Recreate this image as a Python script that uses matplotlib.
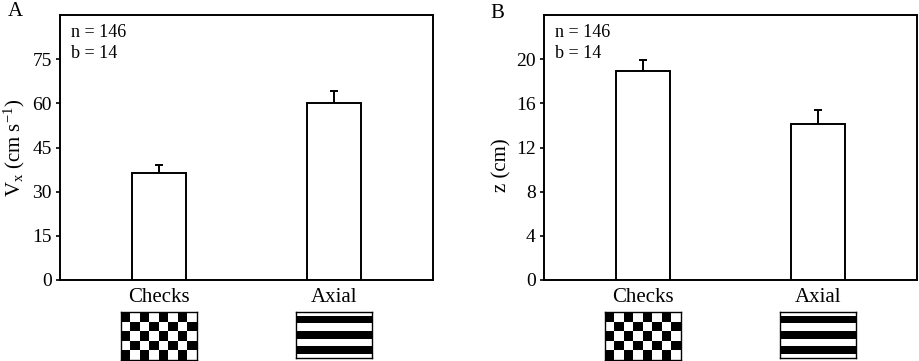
import numpy as np
import matplotlib
matplotlib.use("Agg")
import matplotlib.pyplot as plt

plt.rcParams['font.family'] = ['Liberation Serif', 'DejaVu Serif']
plt.rcParams['mathtext.fontset'] = 'custom'
plt.rcParams['mathtext.rm'] = 'Liberation Serif'
plt.rcParams['mathtext.it'] = 'Liberation Serif:italic'

categories = ["Checks", "Axial"]
vx_means = [36.5, 60.2]
vx_errs = [2.4, 4.0]
z_means = [18.9, 14.1]
z_errs = [1.05, 1.3]
n_text = "n = 146"
b_text = "b = 14"

W, H = 919, 361
fig = plt.figure(figsize=(W / 100, H / 100), dpi=100)

def px_rect(x0, y0, x1, y1):
    return [x0 / W, (H - y1) / H, (x1 - x0) / W, (y1 - y0) / H]

panels = [
    dict(rect=px_rect(60, 15, 433, 280), means=vx_means, errs=vx_errs,
         ylim=(0, 90), yticks=[0, 15, 30, 45, 60, 75],
         ylabel=r"V$_{\mathrm{x}}$ (cm s$^{-1}$)", label_y=0.5,
         letter="A", letter_xy=(8, 12)),
    dict(rect=px_rect(544, 15, 917, 280), means=z_means, errs=z_errs,
         ylim=(0, 24), yticks=[0, 4, 8, 12, 16, 20],
         ylabel="z (cm)", label_y=0.435,
         letter="B", letter_xy=(490, 13)),
]

# stimulus images
checks_img = (np.add.outer(np.arange(5), np.arange(8)) % 2 == 0).astype(float)
axial_rows = [0] * 2 + [1] * 4 + [0] * 4 + [1] * 4 + [0] * 4 + [1] * 4 + [0] * 2
axial_img = np.array(axial_rows, dtype=float)[:, None] * np.ones((1, 8))

xlim = (-0.564, 1.564)
for p in panels:
    ax = fig.add_axes(p["rect"])
    x = np.arange(len(categories))
    ax.bar(x, p["means"], width=0.31, color="white", edgecolor="black",
           linewidth=1.4, zorder=2)
    ax.errorbar(x, p["means"], yerr=[np.zeros(len(x)), p["errs"]], fmt="none",
                ecolor="black", elinewidth=1.4, capsize=3.2, capthick=1.4, zorder=1)
    ax.set_xlim(*xlim)
    ax.set_ylim(*p["ylim"])
    ax.set_yticks(p["yticks"])
    ax.set_xticks([])
    ax.tick_params(axis="y", direction="out", length=3, width=1.2, pad=3,
                   labelsize=14)
    for s in ax.spines.values():
        s.set_linewidth(1.4)
    ax.set_ylabel(p["ylabel"], fontsize=15)
    ax.yaxis.set_label_coords(-0.088, p["label_y"])
    ax.text(0.03, 0.935, n_text, transform=ax.transAxes, fontsize=13,
            va="center", ha="left")
    ax.text(0.03, 0.853, b_text, transform=ax.transAxes, fontsize=13,
            va="center", ha="left")
    lx, ly = p["letter_xy"]
    fig.text(lx / W, (H - ly) / H, p["letter"], fontsize=15,
             va="center", ha="left")
    # category labels and stimulus pictures
    x0px = p["rect"][0] * W
    wpx = p["rect"][2] * W
    for i, cat in enumerate(categories):
        cx = x0px + (i - xlim[0]) / (xlim[1] - xlim[0]) * wpx
        fig.text(cx / W, (H - 298) / H, cat, fontsize=15, ha="center",
                 va="center")
        iax = fig.add_axes(px_rect(cx - 38, 312, cx + 38, 360 if i == 0 else 358))
        img = checks_img if i == 0 else axial_img
        iax.imshow(img, cmap="gray_r", vmin=0, vmax=1, aspect="auto",
                   interpolation="nearest")
        iax.set_xticks([])
        iax.set_yticks([])
        for s in iax.spines.values():
            s.set_linewidth(1.0)

fig.savefig("out.png", dpi=100)
